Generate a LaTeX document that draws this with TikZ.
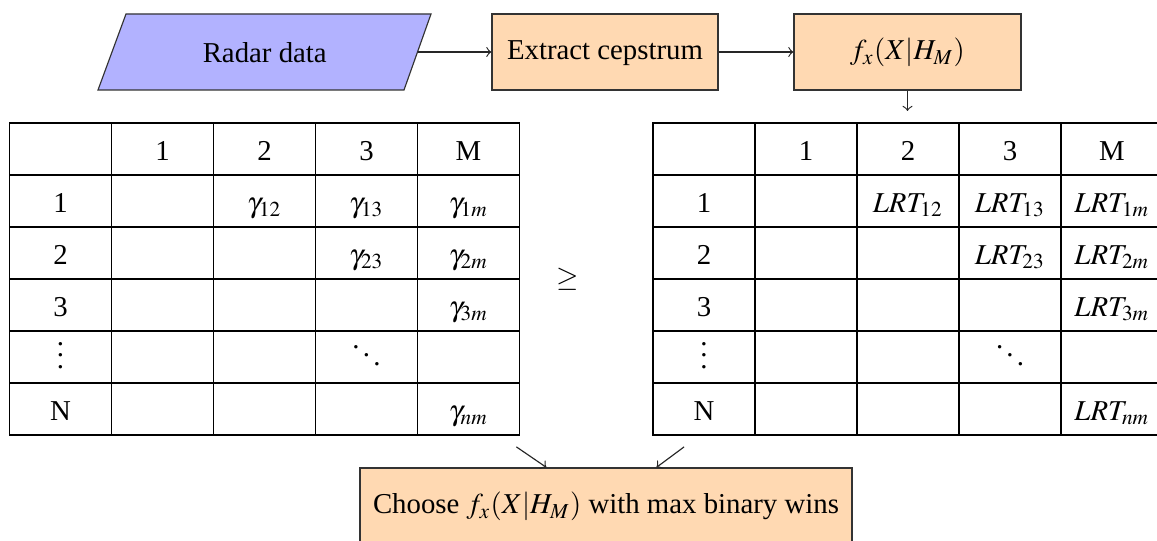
\documentclass[tikz,border=0pt]{standalone}
\usepackage{mathptmx}
\usepackage[no-math]{fontspec}
\setmainfont{Liberation Serif}
\usetikzlibrary{matrix,calc}
\def\pu{0.3472pt}
\begin{document}
\begin{tikzpicture}[x=0.3472pt,y=-0.3472pt,
  box/.style={draw=black!80, fill=orange!30, minimum height=76*\pu, inner sep=0pt,
    text height=7pt, text depth=1.5pt},
  iofill/.style={draw=black!80, fill=blue!30},
  cell/.style={draw, line width=0.6pt, minimum width=102*\pu, minimum height=52*\pu,
    inner sep=0pt, anchor=center, text height=8.5pt, text depth=0.7pt},
  tab/.style={matrix of nodes, nodes in empty cells, nodes={cell},
    column sep=-0.6pt, row sep=-0.6pt},
  conn/.style={->, black!85}]
\useasboundingbox (0,0) rectangle (1157,541);

% input parallelogram
\coordinate (pBL) at (98,90);
\coordinate (pBR) at (404,90);
\coordinate (pTR) at (431,14);
\coordinate (pTL) at (126,14);
\draw[iofill] (pBL) -- (pBR) -- (pTR) -- (pTL) -- cycle;
\node (radar) at (264.75,53) {Radar data};
\coordinate (radarR) at (417.5,52);

\node[box, minimum width=226*\pu] (extract) at (605,52) {Extract cepstrum};
\node[box, minimum width=227*\pu] (fx) at (907.5,52) {$f_x(X|H_M)$};

\matrix[tab] (ltab) at (264.5,279) {
            & 1 & 2 & 3 & M \\
  1         &   & $\gamma_{12}$ & $\gamma_{13}$ & $\gamma_{1m}$ \\
  2         &   &   & $\gamma_{23}$ & $\gamma_{2m}$ \\
  3         &   &   &   & $\gamma_{3m}$ \\
  $\vdots$  &   &   & $\ddots$ &  \\
  N         &   &   &   & $\gamma_{nm}$ \\
};

\matrix[tab] (rtab) at (908,279) {
            & 1 & 2 & 3 & M \\
  1         &   & $LRT_{12}$ & $LRT_{13}$ & $LRT_{1m}$ \\
  2         &   &   & $LRT_{23}$ & $LRT_{2m}$ \\
  3         &   &   &   & $LRT_{3m}$ \\
  $\vdots$  &   &   & $\ddots$ &  \\
  N         &   &   &   & $LRT_{nm}$ \\
};

\node (geq) at (568,279) {$\geq$};

\node[box, minimum width=492*\pu, minimum height=76*\pu] (choose) at (606,506)
  {Choose $f_x(X|H_M)$ with max binary wins};

% connectors
\draw[conn] (radarR) -- (extract);
\draw[conn] (extract) -- (fx);
\coordinate (fxend) at (907.5,111);
\draw[conn] (fx) -- (fxend);
\coordinate (lstart) at ($(ltab-6-5.south east)+(-4,11)$);
\coordinate (lend) at ($(choose.north west)+(187,0)$);
\coordinate (rstart) at ($(rtab-6-1.south west)+(32,11)$);
\coordinate (rend) at ($(choose.north west)+(297,0)$);
\draw[conn] (lstart) -- (lend);
\draw[conn] (rstart) -- (rend);
\end{tikzpicture}
\end{document}
